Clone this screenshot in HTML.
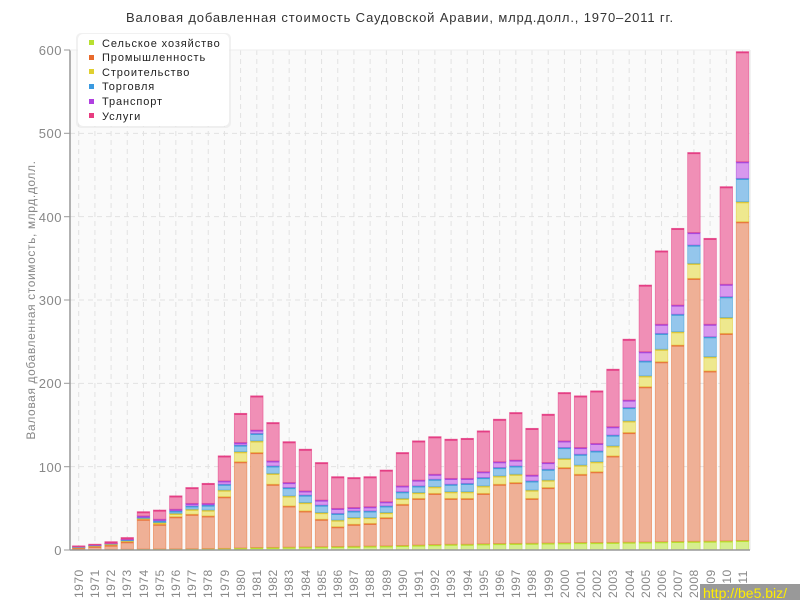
<!DOCTYPE html>
<html><head><meta charset="utf-8">
<style>
body{margin:0;background:#fff;}
svg text{font-family:"Liberation Sans",sans-serif;}
</style></head>
<body>
<svg id="c" width="800" height="600" xmlns="http://www.w3.org/2000/svg">
<rect x="0" y="0" width="800" height="600" fill="#fff"/>
<rect x="70" y="50" width="680" height="500" fill="#fafafa"/>
<text x="400" y="22" text-anchor="middle" font-size="13" fill="#333" letter-spacing="0.85">Валовая добавленная стоимость Саудовской Аравии, млрд.долл., 1970–2011 гг.</text>
<g id="grid" stroke="#e2e2e2" stroke-dasharray="5,4" stroke-width="1"></g>
<line x1="70" y1="50" x2="70" y2="550" stroke="#999" stroke-width="1.5"/>
<line x1="750" y1="50" x2="750" y2="550" stroke="#e6e6e6" stroke-width="1"/>
<line x1="70" y1="50" x2="750" y2="50" stroke="#eee" stroke-width="1"/>
<g font-size="13" fill="#888" text-anchor="end" letter-spacing="0.5">
<text x="62" y="555">0</text>
<text x="62" y="472">100</text>
<text x="62" y="388">200</text>
<text x="62" y="305">300</text>
<text x="62" y="222">400</text>
<text x="62" y="138">500</text>
<text x="62" y="55">600</text>
</g>
<g stroke="#999" stroke-width="1">
<line x1="64" y1="550" x2="70" y2="550"/><line x1="64" y1="466.7" x2="70" y2="466.7"/><line x1="64" y1="383.3" x2="70" y2="383.3"/><line x1="64" y1="300" x2="70" y2="300"/><line x1="64" y1="216.7" x2="70" y2="216.7"/><line x1="64" y1="133.3" x2="70" y2="133.3"/><line x1="64" y1="50" x2="70" y2="50"/>
</g>
<text transform="translate(35,300) rotate(-90)" text-anchor="middle" font-size="12" fill="#888" letter-spacing="0.6">Валовая добавленная стоимость, млрд.долл.</text>
<g id="bars"></g>
<line x1="70" y1="550" x2="750" y2="550" stroke="#999" stroke-width="1.5"/>
<g id="xl" font-size="12" fill="#888" letter-spacing="0.5">
<text transform="translate(83,598) rotate(-90)">1970</text>
<text transform="translate(99,598) rotate(-90)">1971</text>
<text transform="translate(115,598) rotate(-90)">1972</text>
<text transform="translate(131,598) rotate(-90)">1973</text>
<text transform="translate(148,598) rotate(-90)">1974</text>
<text transform="translate(164,598) rotate(-90)">1975</text>
<text transform="translate(180,598) rotate(-90)">1976</text>
<text transform="translate(196,598) rotate(-90)">1977</text>
<text transform="translate(212,598) rotate(-90)">1978</text>
<text transform="translate(229,598) rotate(-90)">1979</text>
<text transform="translate(245,598) rotate(-90)">1980</text>
<text transform="translate(261,598) rotate(-90)">1981</text>
<text transform="translate(277,598) rotate(-90)">1982</text>
<text transform="translate(293,598) rotate(-90)">1983</text>
<text transform="translate(310,598) rotate(-90)">1984</text>
<text transform="translate(326,598) rotate(-90)">1985</text>
<text transform="translate(342,598) rotate(-90)">1986</text>
<text transform="translate(358,598) rotate(-90)">1987</text>
<text transform="translate(374,598) rotate(-90)">1988</text>
<text transform="translate(391,598) rotate(-90)">1989</text>
<text transform="translate(407,598) rotate(-90)">1990</text>
<text transform="translate(423,598) rotate(-90)">1991</text>
<text transform="translate(439,598) rotate(-90)">1992</text>
<text transform="translate(455,598) rotate(-90)">1993</text>
<text transform="translate(472,598) rotate(-90)">1994</text>
<text transform="translate(488,598) rotate(-90)">1995</text>
<text transform="translate(504,598) rotate(-90)">1996</text>
<text transform="translate(520,598) rotate(-90)">1997</text>
<text transform="translate(536,598) rotate(-90)">1998</text>
<text transform="translate(553,598) rotate(-90)">1999</text>
<text transform="translate(569,598) rotate(-90)">2000</text>
<text transform="translate(585,598) rotate(-90)">2001</text>
<text transform="translate(601,598) rotate(-90)">2002</text>
<text transform="translate(617,598) rotate(-90)">2003</text>
<text transform="translate(634,598) rotate(-90)">2004</text>
<text transform="translate(650,598) rotate(-90)">2005</text>
<text transform="translate(666,598) rotate(-90)">2006</text>
<text transform="translate(682,598) rotate(-90)">2007</text>
<text transform="translate(698,598) rotate(-90)">2008</text>
<text transform="translate(715,598) rotate(-90)">2009</text>
<text transform="translate(731,598) rotate(-90)">2010</text>
<text transform="translate(747,598) rotate(-90)">2011</text>
</g>
<g>
<rect x="76" y="33" width="155" height="95" rx="5" fill="#e8e8e8" opacity="0.6"/>
<rect x="78" y="34" width="151" height="92" rx="5" fill="#fff"/>
<rect x="89" y="40" width="5" height="5" fill="#b8e030"/>
<rect x="89" y="55" width="5" height="5" fill="#e86a2c"/>
<rect x="89" y="69" width="5" height="5" fill="#e0d030"/>
<rect x="89" y="84" width="5" height="5" fill="#3a9ae0"/>
<rect x="89" y="99" width="5" height="5" fill="#b040e0"/>
<rect x="89" y="113" width="5" height="5" fill="#e83c80"/>
<g font-size="11" fill="#222" letter-spacing="0.9">
<text x="102" y="47">Сельское хозяйство</text>
<text x="102" y="61">Промышленность</text>
<text x="102" y="76">Строительство</text>
<text x="102" y="90">Торговля</text>
<text x="102" y="105">Транспорт</text>
<text x="102" y="120">Услуги</text>
</g>
</g>
<rect x="700" y="584" width="100" height="16" fill="#999"/>
<text x="703" y="598" font-size="14" fill="#ffee00">http://be5.biz/</text>
</svg>
<script>
var ns="http://www.w3.org/2000/svg";
var D=[
[0.5,2.5,3,3.5,4,5],[0.6,4.5,5,5.5,6,7],[0.8,6,7,7.5,8,10],[1,10,11,12,13,15],
[1.2,37,38,39,41,46],[1.3,31,33,35,37,48],[1.4,40,44,47,49,65],[1.5,43,49,53,56,75],
[1.7,41,48,54,56,80],[2,64,72,79,83,113],[2.5,106,118,126,129,164],[3,117,131,140,144,185],
[3.2,79,92,101,107,153],[3.5,53,65,75,81,130],[3.7,47,57,66,71,121],[4,37,45,54,60,105],
[4.2,28,36,44,50,88],[4.5,31,39,47,51,87],[4.8,32,39,47,52,88],[5,39,45,53,58,96],
[5.5,55,62,70,77,117],[6,62,69,77,84,131],[6.5,68,76,85,91,136],[7,62,70,79,86,133],
[7,62,70,80,86,134],[7.5,68,77,87,94,143],[7.8,79,89,99,106,157],[8,81,91,101,108,165],
[8.2,62,72,83,90,146],[8.5,75,84,97,105,163],[8.7,99,110,123,131,189],[9,91,102,115,123,185],
[9,94,106,119,128,191],[9.2,113,125,138,148,217],[9.5,141,155,171,180,253],[9.7,196,209,227,238,318],
[10,226,241,260,271,359],[10.3,246,262,283,294,386],[10.5,326,344,366,381,477],[10.7,215,232,256,271,374],
[11,260,279,304,319,436],[11.5,394,418,446,466,598]];
var F=["#d6ee8e","#efb096","#eee88e","#94c6ec","#d898ee","#f08fb6"];
var S=["#b8e030","#e8763e","#e2c834","#3e9ed8","#a848dc","#e43e84"];
var g=document.getElementById("bars"),gr=document.getElementById("grid");
function yy(v){return 550-v*500/600;}
function el(t,a,p){var e=document.createElementNS(ns,t);for(var k in a)e.setAttribute(k,a[k]);p.appendChild(e);return e;}
for(var v=100;v<=500;v+=100)el("line",{x1:70,x2:750,y1:yy(v),y2:yy(v)},gr);
for(var i=0;i<42;i++){var cx=78.7+i*16.19;el("line",{x1:cx,x2:cx,y1:50,y2:550},gr);}
for(var i=0;i<42;i++){
 var cx=78.7+i*16.19,w=12.5,bx=cx-w/2,prev=0;
 for(var j=0;j<6;j++){
  var tv=D[i][j],h=(tv-prev)*500/600;
  if(h>0){
   el("rect",{x:bx,y:yy(tv),width:w,height:h,fill:F[j],stroke:S[j],"stroke-width":0.8,"stroke-opacity":0.6},g);
   el("rect",{x:bx,y:yy(tv),width:w,height:Math.min(1.6,h),fill:S[j]},g);
  }
  prev=tv;
 }
}
</script>
</body></html>
